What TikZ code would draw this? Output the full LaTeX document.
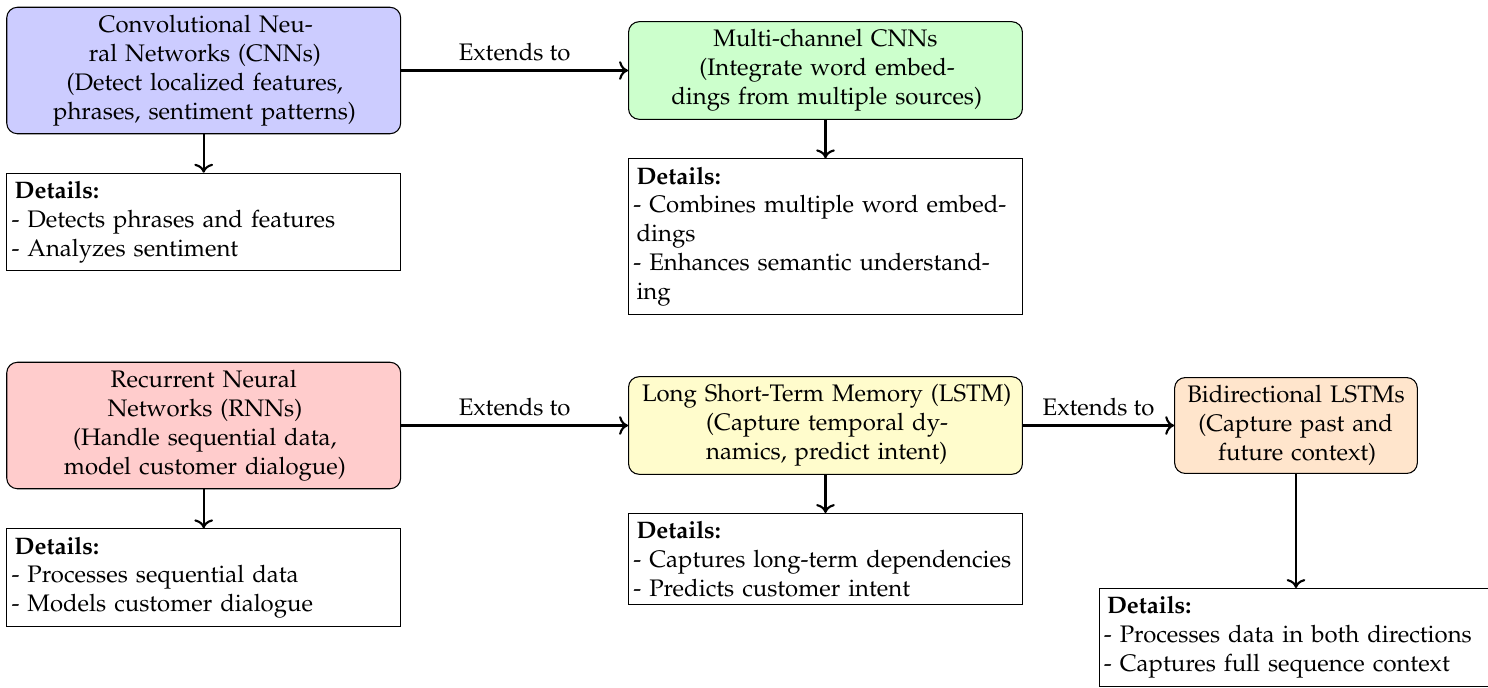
\documentclass[tikz,border=0pt]{standalone}
\usepackage[T1]{fontenc}
\usepackage{mathpazo}
\usepackage{microtype}
\usetikzlibrary{arrows.meta}
\newcommand{\figfont}{\fontsize{9pt}{10.85pt}\selectfont}
\begin{document}
\begin{tikzpicture}[x=0.3764pt,y=-0.3764pt,
  font=\figfont,
  every node/.style={inner sep=3pt},
  mainbox/.style={draw, rounded corners, text width=5cm, align=center},
  smallbox/.style={draw, rounded corners, text width=3cm, align=center},
  detailbox/.style={draw, text width=5cm, align=left, anchor=north},
  arr/.style={->, thick},
  lbl/.style={above, font=\figfont}
]
\useasboundingbox (0,0) rectangle (1488,688);

\node[mainbox, fill=blue!20] (cnn) at (203.7,70.5)
  {Convolutional Neural Networks (CNNs)\\(Detect localized features, phrases, sentiment patterns)};
\node[detailbox] (cnnd) at (203.7,172.7)
  {\textbf{Details:}\\- Detects phrases and features\\- Analyzes sentiment};

\node[mainbox, fill=green!20] (mc) at (825.5,70.5)
  {Multi-channel CNNs\\(Integrate word embeddings from multiple sources)};
\node[detailbox] (mcd) at (825.5,158.3)
  {\textbf{Details:}\\- Combines multiple word embeddings\\- Enhances semantic understanding};

\node[mainbox, fill=red!20] (rnn) at (203.7,425.5)
  {Recurrent Neural Networks (RNNs)\\(Handle sequential data, model customer dialogue)};
\node[detailbox] (rnnd) at (203.7,528.3)
  {\textbf{Details:}\\- Processes sequential data\\- Models customer dialogue};

\node[mainbox, fill=yellow!20] (lstm) at (825.5,425.5)
  {Long Short-Term Memory (LSTM)\\(Capture temporal dynamics, predict intent)};
\node[detailbox] (lstmd) at (825.5,513)
  {\textbf{Details:}\\- Captures long-term dependencies\\- Predicts customer intent};

\node[smallbox, fill=orange!20] (bi) at (1296,425.5)
  {Bidirectional LSTMs\\(Capture past and future context)};
\node[detailbox] (bid) at (1296,588)
  {\textbf{Details:}\\- Processes data in both directions\\- Captures full sequence context};

\draw[arr] (cnn) -- node[lbl] {Extends to} (mc);
\draw[arr] (rnn) -- node[lbl] {Extends to} (lstm);
\draw[arr] (lstm) -- node[lbl] {Extends to} (bi);
\draw[arr] (cnn) -- (cnnd);
\draw[arr] (mc) -- (mcd);
\draw[arr] (rnn) -- (rnnd);
\draw[arr] (lstm) -- (lstmd);
\draw[arr] (bi) -- (bid);
\end{tikzpicture}
\end{document}
